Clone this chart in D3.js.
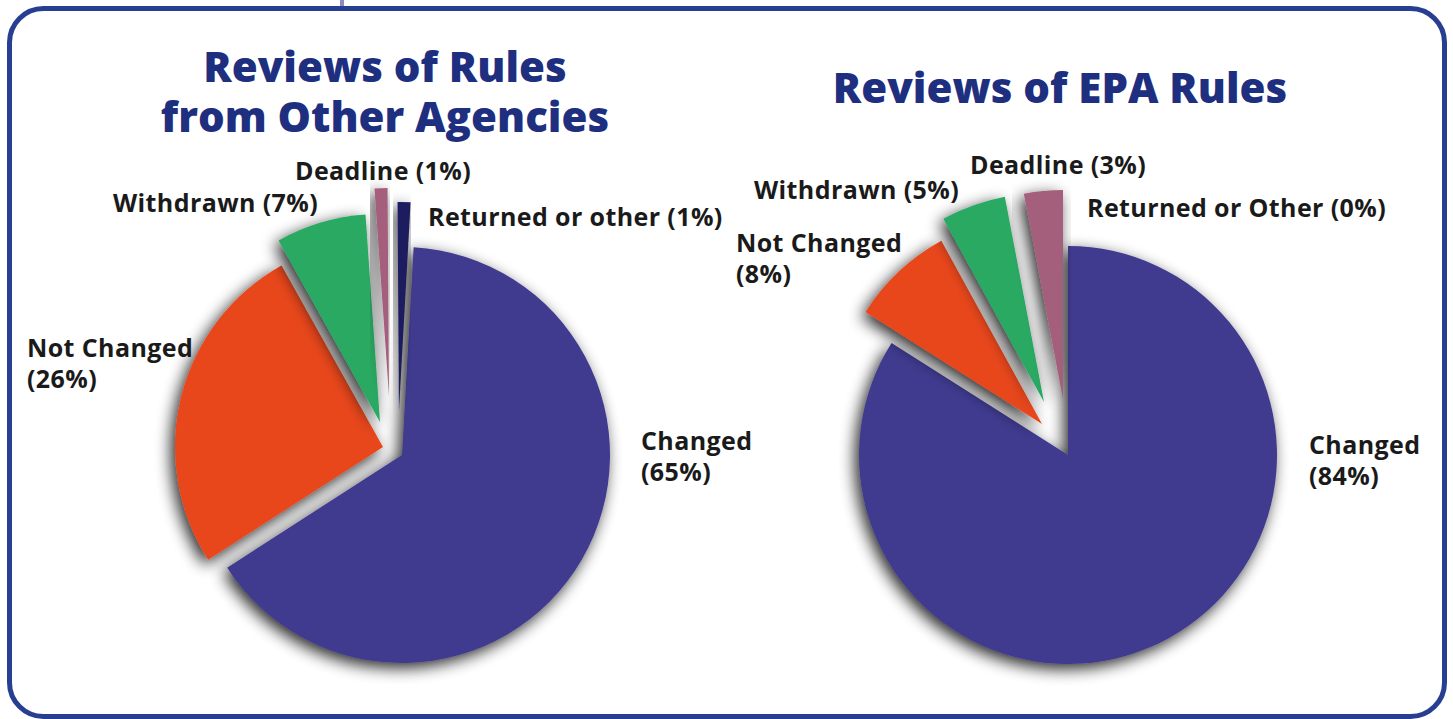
<!DOCTYPE html>
<html lang="en">
<head>
<meta charset="UTF-8">
<title>Reviews of Rules</title>
<style>
  body { margin: 0; background: #fff; }
  text { font-family: "Open Sans", sans-serif; }
</style>
</head>
<body>
<script src="https://cdnjs.cloudflare.com/ajax/libs/d3/7.8.5/d3.min.js"></script>
<script>
// Data
let categories = ["Changed", "Not Changed", "Withdrawn", "Deadline", "Returned or other"];
let otherAgencyValues = [65, 26, 7, 1, 1];
let epaValues = [84, 8, 5, 3, 0];
let otherAgencyLabels = ["Changed", "Not Changed", "Withdrawn", "Deadline", "Returned or other"];
let epaLabels = ["Changed", "Not Changed", "Withdrawn", "Deadline", "Returned or Other"];
let sliceColors = ["#403a8f", "#e8461d", "#29a963", "#a45f7b", "#1d1a5e"];

let width = 1453, height = 719;

let svg = d3.select("body").append("svg")
  .attr("width", width)
  .attr("height", height);

// soft drop shadow under every slice
let defs = svg.append("defs");
let shadow = defs.append("filter")
  .attr("id", "shadow")
  .attr("x", "-30%").attr("y", "-30%")
  .attr("width", "160%").attr("height", "160%");
shadow.append("feGaussianBlur").attr("in", "SourceAlpha").attr("stdDeviation", 8).attr("result", "blur");
shadow.append("feOffset").attr("in", "blur").attr("dx", -4).attr("dy", 5).attr("result", "off");
shadow.append("feComponentTransfer").attr("in", "off").attr("result", "soft")
  .append("feFuncA").attr("type", "linear").attr("slope", 0.85);
let merge = shadow.append("feMerge");
merge.append("feMergeNode").attr("in", "soft");
merge.append("feMergeNode").attr("in", "SourceGraphic");

// frame
svg.append("line")
  .attr("x1", 342).attr("x2", 342).attr("y1", 0).attr("y2", 8)
  .attr("stroke", "#8c8cc4").attr("stroke-width", 4);
svg.append("rect")
  .attr("x", 9.5).attr("y", 8.5)
  .attr("width", 1435).attr("height", 708)
  .attr("rx", 34).attr("ry", 34)
  .attr("fill", "none")
  .attr("stroke", "#283f91")
  .attr("stroke-width", 5);

function drawPie(cfg) {
  let pie = d3.pie()
    .sort(null)
    .startAngle(cfg.start)
    .endAngle(cfg.start + 2 * Math.PI);
  let arc = d3.arc().innerRadius(0).outerRadius(cfg.r);
  let arcs = pie(cfg.values);

  let g = svg.append("g")
    .attr("transform", `translate(${cfg.cx}, ${cfg.cy})`);

  g.selectAll("path")
    .data(arcs.filter(d => d.value > 0))
    .enter()
    .append("path")
    .attr("d", arc)
    .attr("fill", d => sliceColors[d.index])
    .attr("filter", "url(#shadow)")
    .attr("transform", d => `translate(${cfg.offsets[d.index][0]}, ${cfg.offsets[d.index][1]})`);

  // titles
  let title = svg.append("text")
    .attr("text-anchor", "middle")
    .attr("fill", "#1f2f80")
    .style("font-size", "42px")
    .style("font-weight", 800);
  cfg.title.forEach((t, i) => {
    title.append("tspan")
      .attr("x", cfg.titleX)
      .attr("y", cfg.titleY + i * 50)
      .text(t);
  });

  // labels
  cfg.labelPos.forEach((p, i) => {
    let lines = p.split ? [cfg.labels[i], `(${cfg.values[i]}%)`] : [`${cfg.labels[i]} (${cfg.values[i]}%)`];
    let t = svg.append("text")
      .attr("fill", "#1a1a1a")
      .style("font-size", "25px")
      .style("letter-spacing", "0.4px")
      .style("font-weight", 700);
    lines.forEach((line, j) => {
      t.append("tspan").attr("x", p.x).attr("y", p.y + j * 31).text(line);
    });
  });
}

drawPie({
  values: otherAgencyValues,
  labels: otherAgencyLabels,
  cx: 402, cy: 455, r: 208,
  start: 3.2 * Math.PI / 180,
  offsets: [[0, 0], [-19, -8], [-22, -33], [-13, -59], [-3, -45]],
  title: ["Reviews of Rules", "from Other Agencies"],
  titleX: 385, titleY: 82,
  labelPos: [
    {x: 641, y: 450, split: true},
    {x: 27, y: 357, split: true},
    {x: 113, y: 212},
    {x: 295, y: 180},
    {x: 428, y: 226}
  ]
});

drawPie({
  values: epaValues,
  labels: epaLabels,
  cx: 1068, cy: 455, r: 209,
  start: 0,
  offsets: [[0, 0], [-26, -31], [-24, -53], [-5, -56], [0, 0]],
  title: ["Reviews of EPA Rules"],
  titleX: 1060, titleY: 103,
  labelPos: [
    {x: 1309, y: 454, split: true},
    {x: 736, y: 252, split: true},
    {x: 754, y: 199},
    {x: 970, y: 174},
    {x: 1087, y: 217}
  ]
});
</script>
</body>
</html>
